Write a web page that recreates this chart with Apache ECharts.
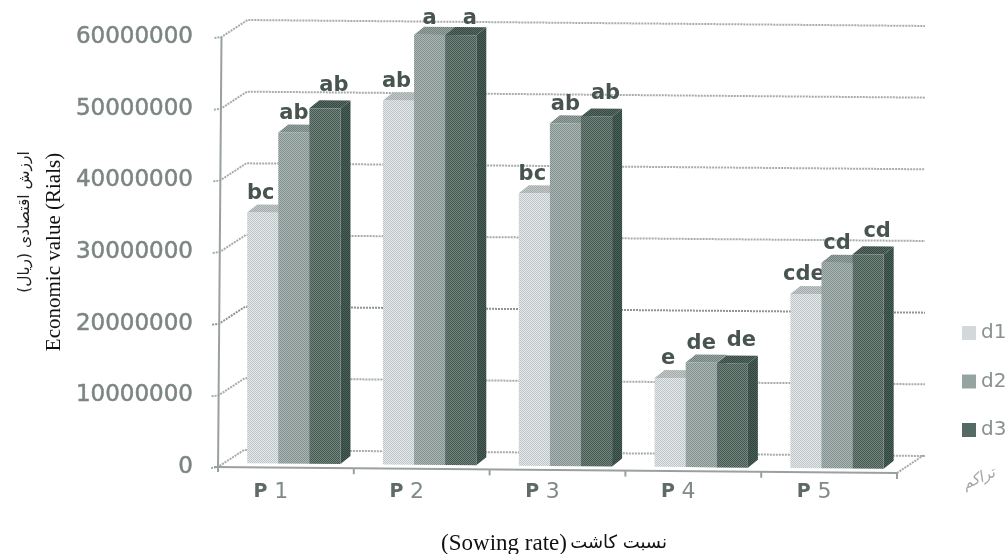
<!DOCTYPE html>
<html><head><meta charset="utf-8">
<style>html,body{margin:0;padding:0;background:#fff}#c{width:1005px;height:554px}</style>
<script src="https://cdn.jsdelivr.net/npm/echarts@6/dist/echarts.min.js"></script>
</head><body><div id="c"></div>
<script>
const categories = ['P1','P2','P3','P4','P5'];
const d1 = [35000000, 50800000, 38000000, 12400000, 24300000];
const d2 = [46200000, 60000000, 47800000, 14600000, 28700000];
const d3 = [49600000, 60000000, 48800000, 14500000, 29900000];
const d1Letters = ['bc','ab','bc','e','cde'];
const d2Letters = ['ab','a','ab','de','cd'];
const d3Letters = ['ab','a','ab','de','cd'];
const yTicks = [0,10000000,20000000,30000000,40000000,50000000,60000000];
const yMax = 60000000;

const TILT = 0.0088, SERIF = '"Liberation Serif", serif', SANS = '"DejaVu Sans", sans-serif';

function halftone(a, b) {
  const c = document.createElement('canvas'); c.width = c.height = 2;
  const g = c.getContext('2d'); g.fillStyle = a; g.fillRect(0,0,2,2);
  g.fillStyle = b; g.fillRect(0,0,1,1); g.fillRect(1,1,1,1);
  return {image: c, repeat: 'repeat'};
}
const faces = [
  {legend:'#d3d9db', front:halftone('#e4e8ea','#bec6c8'), top:halftone('#c4caca','#a2aaaa'), side:halftone('#c8cfd0','#aab2b3'), dx:-2, dy:-19},
  {legend:'#96a4a1', front:halftone('#aeb9b7','#7f8f8c'), top:halftone('#9aa6a4','#6f7f7c'), side:halftone('#8e9c99','#6c7c79'), dx:0,  dy:-19},
  {legend:'#556a65', front:halftone('#73867f','#44584f'), top:halftone('#5b6d69','#33463f'), side:halftone('#4e625d','#2f433d'), dx:9,  dy:-23}
];

function tiltY(sys, x, y) { return y + (x - sys.x) * TILT; }

function barSeries(name, values, letters, idx) {
  const face = faces[idx];
  return {
    name, type:'custom', coordinateSystem:'cartesian2d', z:3,
    itemStyle:{color:face.legend},
    encode:{x:0,y:1},
    data: values.map((v,i)=>[categories[i], v, letters[i]]),
    renderItem(params, api) {
      const sys = params.coordSys;
      const val = api.value(1);
      const c = api.coord([api.value(0), val]);
      const z = api.coord([api.value(0), 0]);
      const band = api.size([1,0])[0];
      const w = band * 0.229, ddx = 10, ddy = -8;
      const x = c[0] - band * 0.285 + idx * w;
      const t = tiltY(sys, x, c[1]) - 4;
      const b = tiltY(sys, x, z[1]) - 4;
      const rise = w * TILT;
      const poly = (pts, fill) => ({type:'polygon', shape:{points:pts}, style:{fill}});
      return {type:'group', children:[
        poly([[x+w,t+rise],[x+w+ddx,t+rise+ddy],[x+w+ddx,b+rise+ddy],[x+w,b+rise]], face.side),
        poly([[x,t],[x+w,t+rise],[x+w+ddx,t+rise+ddy],[x+ddx,t+ddy]], face.top),
        poly([[x,t],[x+w,t+rise],[x+w,b+rise],[x,b]], face.front),
        {type:'text', x:x+w/2+face.dx, y:Math.max(19, t+face.dy), style:{
          text:api.value(2), align:'center', verticalAlign:'middle',
          font:'bold 21px '+SANS, fill:'#48554f'}}
      ]};
    }
  };
}

const wallSeries = {
  name:'walls', type:'custom', coordinateSystem:'cartesian2d', z:1, silent:true,
  encode:{x:0,y:1},
  data: yTicks.map(v=>[categories[0], v]),
  renderItem(params, api) {
    const sys = params.coordSys;
    const v = api.value(1);
    const y = api.coord([categories[0], v])[1];
    const x = sys.x + 3.5 * v / yMax;
    const bx = x + 26, by = y - 17;
    const ex = 925, ey = by + (ex - bx) * TILT;
    const ls = {stroke: v===20000000 ? '#8d9593' : '#a6abab', lineWidth:2, lineDash:[2,1], fill:null};
    return {type:'group', children:[
      {type:'polyline', shape:{points:[[x-7,y+1],[x,y],[bx,by],[ex,ey]]}, style:ls}
    ]};
  }
};

const axisSeries = {
  name:'axes', type:'custom', coordinateSystem:'cartesian2d', z:2, silent:true,
  encode:{x:0,y:1},
  data: [[categories[0], 0]],
  renderItem(params, api) {
    const sys = params.coordSys;
    const y0 = api.coord([categories[0], 0])[1];
    const yT = api.coord([categories[0], yMax])[1];
    const xL = sys.x, xR = sys.x + sys.width;
    const ls = {stroke:'#9aa0a0', lineWidth:2, fill:null};
    const kids = [
      {type:'line', shape:{x1:xL,y1:y0+5,x2:xL+3.5,y2:yT}, style:ls},
      {type:'line', shape:{x1:xL-4,y1:y0,x2:xR,y2:y0+(xR-xL)*TILT}, style:ls},
      {type:'line', shape:{x1:xR,y1:y0+(xR-xL)*TILT,x2:xR+27,y2:y0+(xR-xL)*TILT-18}, style:{stroke:'#a6abab',lineWidth:2,lineDash:[2,1],fill:null}}
    ];
    for (let i=1;i<=categories.length;i++){
      const x = xL + sys.width*i/categories.length, y = y0+(x-xL)*TILT;
      kids.push({type:'line', shape:{x1:x,y1:y,x2:x,y2:y+6}, style:ls});
    }
    return {type:'group', children:kids};
  }
};

const chart = echarts.init(document.getElementById('c'));
chart.setOption({
  animation:false,
  backgroundColor:'#fff',
  grid:{left:218,right:108,top:37,bottom:87,containLabel:false,outerBoundsMode:'none'},
  legend:{
    orient:'vertical', left:957, top:318, itemWidth:14, itemHeight:14, itemGap:28.5,
    selectedMode:false,
    data:['d1','d2','d3'].map(n=>({name:n,icon:'rect'})),
    textStyle:{fontFamily:SANS,fontSize:20,color:'#8a9290'}
  },
  xAxis:{
    type:'category', data:categories,
    axisLine:{show:false}, axisTick:{show:false}, splitLine:{show:false},
    axisLabel:{
      margin:14, padding:[0,30,0,0],
      formatter:s=>'{p|'+s[0]+'}  {n|'+s.slice(1)+'}',
      rich:{
        p:{fontFamily:SANS,fontWeight:'bold',fontSize:19,color:'#5f6a68'},
        n:{fontFamily:SANS,fontSize:22,color:'#808a88'}
      }
    },
    name:'{e|(Sowing rate)} {f|نسبت کاشت}', nameLocation:'middle', nameGap:65,
    nameTextStyle:{color:'#111',padding:[0,7,0,0],rich:{
      e:{fontFamily:SERIF,fontSize:23,color:'#111'},
      f:{fontFamily:SANS,fontSize:18,color:'#111'}
    }}
  },
  yAxis:{
    type:'value', min:0, max:yMax, interval:10000000,
    axisLine:{show:false}, axisTick:{show:false}, splitLine:{show:false},
    axisLabel:{margin:25,fontFamily:SANS,fontSize:23,color:'#7b8583',textBorderColor:'#7b8583',textBorderWidth:0.5,formatter:v=>String(v)},
    name:'Economic value (Rials)', nameLocation:'middle', nameGap:153, nameRotate:90,
    nameTextStyle:{fontFamily:SERIF,fontSize:21,color:'#111'}
  },
  graphic:[
    {type:'text', x:25, y:222, rotation:Math.PI/2, z:5,
     style:{text:'ارزش اقتصادی (ریال)', align:'center', verticalAlign:'middle', font:'15.5px '+SANS, fill:'#222'}},
    {type:'text', x:979, y:479, rotation:0.4, z:5,
     style:{text:'تراکم', align:'center', verticalAlign:'middle', font:'italic 15px '+SANS, fill:'#a0a6a5'}}
  ],
  series:[wallSeries, axisSeries,
    barSeries('d1', d1, d1Letters, 0),
    barSeries('d2', d2, d2Letters, 1),
    barSeries('d3', d3, d3Letters, 2)]
});
</script></body></html>
